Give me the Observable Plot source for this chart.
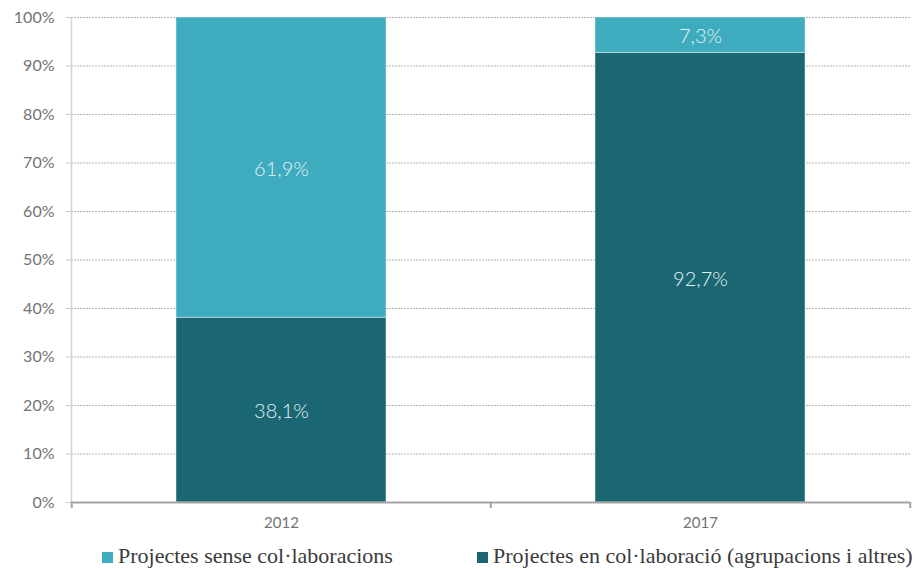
<!DOCTYPE html>
<html>
<head>
<meta charset="utf-8">
<script src="https://cdn.jsdelivr.net/npm/d3@7"></script>
<script src="https://cdn.jsdelivr.net/npm/@observablehq/plot@0.6"></script>
<style>
  html, body { margin: 0; padding: 0; background: #fff; }
  #chart { position: relative; width: 915px; }
  #legend { position: relative; width: 915px; height: 34px; font-family: "Liberation Serif", serif; font-size: 22px; color: #3a3a3a; }
  .item { position: absolute; top: 8px; white-space: nowrap; }
  .sw { display: inline-block; width: 11px; height: 11px; margin-right: 5px; vertical-align: 0px; }
</style>
</head>
<body>
<div id="chart"></div>
<div id="legend"></div>
<script>
const years = ["2012", "2017"];
const seriesNames = ["Projectes sense col·laboracions", "Projectes en col·laboració (agrupacions i altres)"];
const senseVals = [61.9, 7.3];
const collabVals = [38.1, 92.7];
const yTicks = [0, 10, 20, 30, 40, 50, 60, 70, 80, 90, 100];
const colors = ["#3EABBE", "#1B6673"];

const data = [];
years.forEach((y, i) => {
  data.push({year: y, series: seriesNames[1], value: collabVals[i]});
  data.push({year: y, series: seriesNames[0], value: senseVals[i]});
});
const order = [seriesNames[1], seriesNames[0]];
const fmt = v => v.toFixed(1).replace(".", ",") + "%";

const W = 915, mL = 71, mR = 5;
const halfStep = (W - mL - mR) / years.length / 2;

const chart = Plot.plot({
  width: W,
  height: 535,
  marginLeft: mL,
  marginRight: mR,
  marginTop: 17,
  marginBottom: 33,
  style: {fontFamily: "Lato, sans-serif", background: "#fff"},
  x: {domain: years, paddingInner: 0.5, paddingOuter: 0.25, label: null},
  y: {domain: [0, 100], label: null},
  color: {domain: seriesNames, range: colors},
  marks: [
    Plot.gridY(yTicks, {stroke: "#b5b5b5", strokeOpacity: 1, strokeDasharray: "2,1"}),
    Plot.frame({anchor: "left", stroke: "#d4d4d4", strokeWidth: 1.5}),
    Plot.axisY(yTicks, {tickFormat: d => d + "%", tickSize: 5, tickPadding: 12, fontSize: 16, fill: "#737373", stroke: "#c8c8c8", label: null}),
    Plot.barY(data, {x: "year", y: "value", fill: "series", z: "series", order, stroke: "#ffffff", strokeOpacity: 0.45, strokeWidth: 1}),
    Plot.text(data, Plot.stackY({x: "year", y: "value", z: "series", order, text: d => fmt(d.value), fill: "#e2f2f5", fontSize: 20, fontWeight: 300, dy: 1.5})),
    Plot.ruleY([0], {stroke: "#a3a3a3", strokeWidth: 2}),
    Plot.axisX(years, {tickSize: 0, tickPadding: 15, fontSize: 15, fill: "#737373", label: null}),
    Plot.axisX(years, {tickSize: 6, text: null, dx: -halfStep, stroke: "#a3a3a3", strokeWidth: 2, label: null}),
    Plot.axisX(years.slice(-1), {tickSize: 6, text: null, dx: halfStep, stroke: "#a3a3a3", strokeWidth: 2, label: null})
  ]
});
document.getElementById("chart").appendChild(chart);

const legend = document.getElementById("legend");
const lefts = [102, 477];
seriesNames.forEach((name, i) => {
  const it = document.createElement("div");
  it.className = "item";
  it.style.left = lefts[i] + "px";
  it.innerHTML = `<span class="sw" style="background:${colors[i]}"></span>${name}`;
  legend.appendChild(it);
});
</script>
</body>
</html>
